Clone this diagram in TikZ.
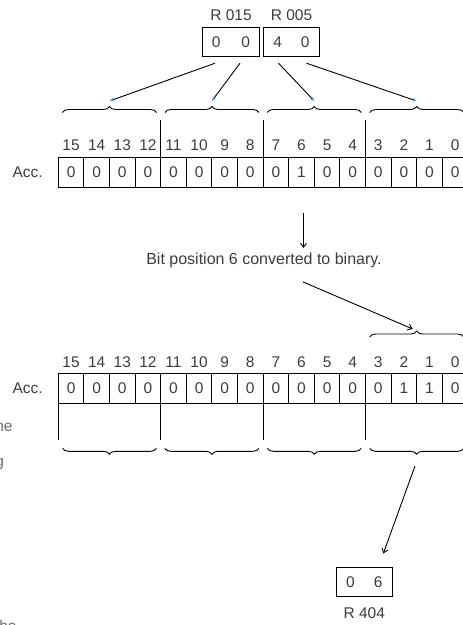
\documentclass[tikz,border=0pt]{standalone}
\usepackage{fontspec}
\setmainfont{Liberation Sans}
\usetikzlibrary{arrows.meta,decorations.pathreplacing}
\definecolor{txtgray}{HTML}{3C3C3C}
\definecolor{headblue}{HTML}{5B9BD5}
\definecolor{fadegray}{HTML}{6E6E6E}

\begin{document}
\begin{tikzpicture}[x=1pt,y=-1pt,line width=0.9pt,
  every node/.style={text=txtgray,font=\fontsize{15.5}{18}\selectfont,inner sep=0pt},
  cell/.style={draw=black,minimum width=25.6pt,minimum height=30pt,outer sep=0pt},
  regbox/.style={draw=black,minimum width=56.5pt,minimum height=29.5pt},
  brc/.style={decorate,decoration={brace,amplitude=6pt}},
  brcdown/.style={decorate,decoration={brace,mirror,amplitude=6pt}},
  bluetip/.style={-{Stealth[length=4.5pt,width=4pt,color=headblue]}},
  tip/.style={-{Straight Barb[length=4pt,width=6pt]}}]
\useasboundingbox (0,0) rectangle (463,625);
% source registers
\node (l015) at (231,15) {R 015};
\node (l005) at (291.5,15) {R 005};
\node[regbox] (r015) at (231,42) {0\hspace{21pt}0};
\node[regbox] (r005) at (291.5,42) {4\hspace{19pt}0};
% accumulator before
\node (acc1) at (27.7,172) {Acc.};
\foreach \v [count=\k from 0] in {0,0,0,0,0,0,0,0,0,1,0,0,0,0,0,0}{
  \pgfmathtruncatemacro\b{15-\k}
  \node[cell] (t\b) at ({71.1+25.6*\k},172) {\v};
  \node (tn\b) at ({71.1+25.6*\k},145) {\b};
}
\foreach \b in {11,7,3} \draw (t\b.north west) -- ++(0,-37);
\foreach \g in {0,...,3}{
  \draw[brc] ({62.5+102.4*\g},112.5) -- ({156.5+102.4*\g},112.5);
  \coordinate (ga\g) at ({109.5+102.4*\g},101);
}
\draw[bluetip] ([shift={(-16,6)}]r015.south) -- (ga0);
\draw[bluetip] ([shift={(9,6)}]r015.south) -- (ga1);
\draw[bluetip] ([shift={(-13,6)}]r005.south) -- (ga2);
\draw[bluetip] ([shift={(15,6)}]r005.south) -- (ga3);
% conversion
\node[font=\fontsize{16}{19}\selectfont] (msg) at (264,260) {Bit position 6 converted to binary.};
\draw[tip] ([shift={(2,26)}]t6.south) -- ([shift={(2,61)}]t6.south);
\coordinate (gb) at (412.7,329);
\draw[tip] ([shift={(39,14)}]msg.south) -- (gb);
% accumulator after
\node (acc2) at (27.7,388.3) {Acc.};
\foreach \v [count=\k from 0] in {0,0,0,0,0,0,0,0,0,0,0,0,0,1,1,0}{
  \pgfmathtruncatemacro\b{15-\k}
  \node[cell] (b\b) at ({71.1+25.6*\k},388.3) {\v};
  \node (bn\b) at ({71.1+25.6*\k},362) {\b};
}
\draw[brc] (369.7,337) -- (463.7,337);
\foreach \b in {15,11,7,3} \draw (b\b.south west) -- ++(0,37);
\foreach \g in {0,...,3}
  \draw[brcdown] ({62.5+102.4*\g},448.3) -- ({156.5+102.4*\g},448.3);
\coordinate (gc) at (415,466);
% result register
\node[regbox] (r404) at (364.3,581.7) {0\hspace{19pt}6};
\node (l404) at (364.3,613.3) {R 404};
\draw[tip] (gc) -- ([shift={(19,-13)}]r404.north);
% cut-off margin text
\node[text=fadegray,anchor=base east] (f1) at (13,431.7) {ne};
\node[text=fadegray,anchor=base east] (f2) at (4.5,466) {g};
\node[text=fadegray,anchor=base east] (f3) at (17,631) {he};
\end{tikzpicture}
\end{document}
